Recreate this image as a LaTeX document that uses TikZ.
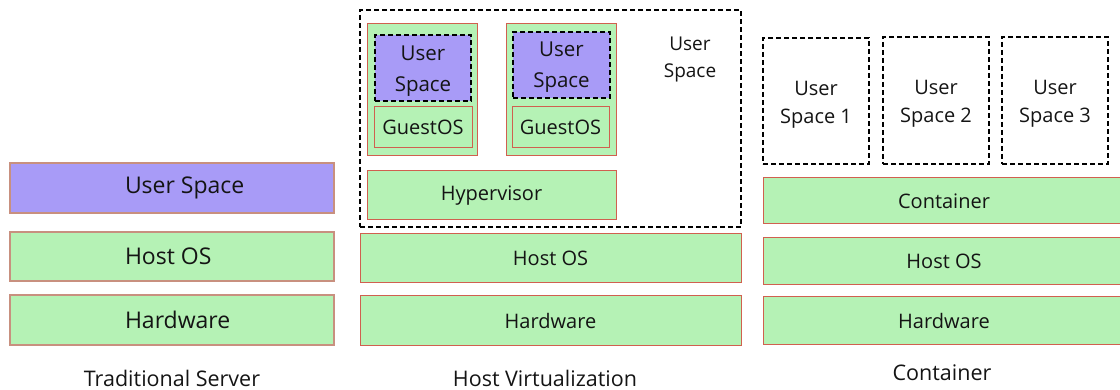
\documentclass[tikz,border=0pt]{standalone}
\usepackage{fontspec}
\setmainfont{Open Sans}
\definecolor{gfill}{HTML}{B5F2B5}
\definecolor{pfill}{HTML}{A89BF7}
\definecolor{rline}{HTML}{D0604F}
\definecolor{bline}{HTML}{C8907F}
\definecolor{ink}{HTML}{141414}
\tikzset{
  every node/.style={inner sep=0pt, outer sep=0pt, text=ink},
  tbox/.style={draw=bline, line width=2.4pt, fill=gfill},
  tpbox/.style={draw=bline, line width=2.4pt, fill=pfill},
  gbox/.style={draw=rline, line width=1pt, fill=gfill},
  ubox/.style={draw=black, line width=1.8pt, dash pattern=on 5pt off 3pt, fill=pfill, align=center},
  dbox/.style={draw=black, line width=1.8pt, dash pattern=on 5pt off 3pt, align=center},
  bigtxt/.style={font=\fontsize{23}{27}\selectfont},
  midtxt/.style={font=\fontsize{20}{28}\selectfont, align=center},
  vmtxt/.style={font=\fontsize{20.5}{31}\selectfont, align=center},
  captxt/.style={font=\fontsize{21.5}{26}\selectfont},
}
\newcommand\bx[7]{\node[#2, minimum width={(#5-#3)*1pt}, minimum height={(#6-#4)*1pt}] (#1) at ({(#3+#5)/2},{(#4+#6)/2}) {#7};}
\begin{document}
\begin{tikzpicture}[x=1pt,y=-1pt]
\useasboundingbox (0,0) rectangle (1120,390);
% Traditional server
\bx{tus}{tpbox}{10}{163}{334}{213}{}
\bx{thos}{tbox}{10}{232}{334}{281}{}
\bx{thw}{tbox}{10}{295}{334}{345}{}
\node[bigtxt, anchor=west] (tusT) at (125,188) {User Space};
\node[bigtxt, anchor=west] (thosT) at (125,256) {Host OS};
\node[bigtxt, anchor=west] (thwT) at (125,320) {Hardware};
\node[captxt] (tcap) at (172,378) {Traditional Server};
% Host virtualization
\bx{hv}{dbox}{360}{10}{741}{227}{}
\bx{vm1}{gbox}{367}{24}{477}{156}{}
\bx{vm1us}{ubox}{375}{35}{471}{101}{}
\node[vmtxt] (vm1usT) at ([yshift=-3pt]vm1us.center) {User\\Space};
\bx{vm1os}{gbox, midtxt}{374}{107}{472}{148}{GuestOS}
\bx{vm2}{gbox}{506}{24}{616}{156}{}
\bx{vm2us}{ubox}{513}{32}{610}{98}{}
\node[vmtxt] (vm2usT) at ([yshift=-2pt]vm2us.center) {User\\Space};
\bx{vm2os}{gbox, midtxt}{512}{107}{609}{148}{GuestOS}
\node[font=\fontsize{19}{27}\selectfont, align=center] (hvus) at (690,60) {User\\Space};
\bx{hyp}{gbox, midtxt}{367}{171}{616}{220}{Hypervisor}
\bx{hhos}{gbox, midtxt}{360}{234}{741}{283}{Host OS}
\bx{hhw}{gbox, midtxt}{360}{296}{741}{345}{Hardware}
\node[captxt] (hcap) at (545,378) {Host Virtualization};
% Container
\bx{cus1}{dbox}{763}{38}{869}{164}{}
\bx{cus2}{dbox}{883}{37}{989}{164}{}
\bx{cus3}{dbox}{1002}{37}{1108}{164}{}
\node[midtxt] (cus1T) at ([yshift=-4pt]cus1.center) {User\\Space 1};
\node[midtxt] (cus2T) at ([yshift=-3pt]cus2.center) {User\\Space 2};
\node[midtxt] (cus3T) at ([yshift=-3pt]cus3.center) {User\\Space 3};
\bx{ccon}{gbox, midtxt}{763}{178}{1125}{224}{Container}
\bx{chos}{gbox, midtxt}{763}{238}{1125}{285}{Host OS}
\bx{chw}{gbox, midtxt}{763}{297}{1125}{344}{Hardware}
\node[captxt] (ccap) at (942,373) {Container};
\end{tikzpicture}
\end{document}
